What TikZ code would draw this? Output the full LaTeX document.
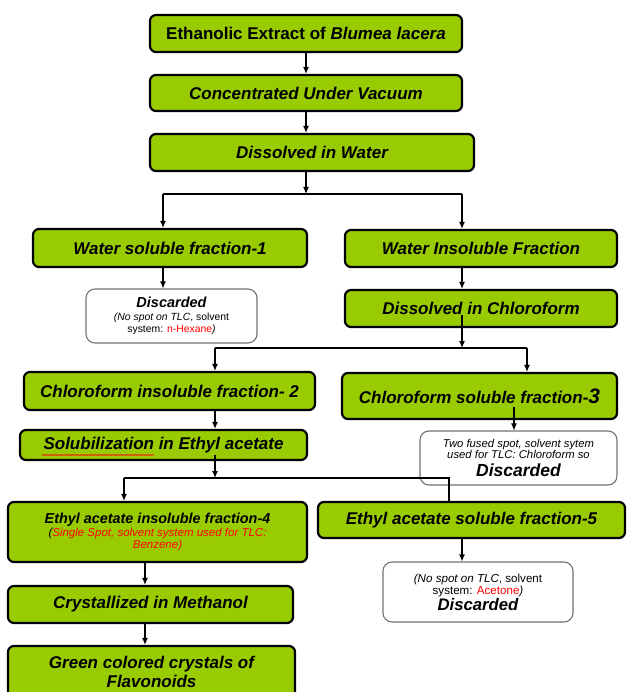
\documentclass[tikz,border=0pt]{standalone}
\usepackage{fontspec}
\setmainfont{Liberation Sans}
\usetikzlibrary{arrows.meta,decorations.pathmorphing}
\definecolor{leafgreen}{RGB}{153,204,0}

\tikzset{
    stage/.style={draw, line width=2.2pt, rounded corners=6pt, fill=leafgreen, align=center, inner sep=0pt,
        font=\fontsize{17}{19}\selectfont\bfseries\itshape},
    waste/.style={draw=black!55, line width=1.1pt, rounded corners=9pt, fill=white, align=center, inner sep=0pt},
    flow/.style={-{Latex[length=7pt,width=6pt]}, line width=1.1pt},
    rail/.style={line width=1.1pt},
}

\begin{document}
\begin{tikzpicture}[x=1pt, y=-1pt]
    \useasboundingbox (0,0) rectangle (627,692);
    \clip (0,0) rectangle (627,692);

    \node[stage, minimum width=312pt, minimum height=37pt] (extract) at (306,33.5) {{\upshape Ethanolic Extract of} \textit{Blumea lacera}};
    \node[stage, minimum width=312pt, minimum height=36pt] (vacuum) at (306,93) {Concentrated Under Vacuum};
    \node[stage, minimum width=324pt, minimum height=37pt] (water) at (312,152.5) {Dissolved in Water};

    \node[stage, minimum width=274pt, minimum height=38pt] (frac1) at (170,248) {Water soluble fraction-1};
    \node[stage, minimum width=272pt, minimum height=37pt] (insol) at (481,248.5) {Water Insoluble Fraction};
    \node[waste, minimum width=171pt, minimum height=54pt, font=\fontsize{10.4}{12}\selectfont] (disc1) at (171.5,316)
        {{\fontsize{14.5}{16}\selectfont\bfseries\itshape Discarded}\\[1pt]
         \textit{(No spot on TLC}, solvent\\system: \textcolor{red}{n-Hexane}\textit{)}};
    \node[stage, minimum width=272pt, minimum height=37pt] (chloro) at (481,308.5) {Dissolved in Chloroform};

    \node[stage, minimum width=291pt, minimum height=38pt] (frac2) at (169.5,391) {Chloroform insoluble fraction- 2};
    \node[stage, minimum width=275pt, minimum height=46pt] (frac3) at (479.5,396) {Chloroform soluble fraction-{\fontsize{21}{21}\selectfont 3}};
    \node[stage, minimum width=287pt, minimum height=30pt] (ethyl) at (163.5,445) {Solubilization in Ethyl acetate};
    \draw[red, line width=0.6pt, decorate, decoration={snake, amplitude=0.5pt, segment length=2.5pt}] (42,455) -- (154,455);
    \node[waste, minimum width=197pt, minimum height=54pt, font=\fontsize{11.3}{11.5}\selectfont\itshape] (disc2) at (518.5,458)
        {Two fused spot, solvent sytem\\used for TLC: Chloroform so\\[4pt]{\fontsize{17.5}{19}\selectfont\bfseries Discarded}};

    \node[stage, minimum width=299pt, minimum height=60pt, font=\fontsize{11.5}{12.5}\selectfont\itshape] (frac4) at (157.5,532)
        {{\fontsize{14.4}{16}\selectfont\bfseries Ethyl acetate insoluble fraction-4}\\
         (\textcolor{red}{Single Spot, solvent system used for TLC:}\\\textcolor{red}{Benzene)}};
    \node[stage, minimum width=307pt, minimum height=36pt] (frac5) at (471.5,520) {Ethyl acetate soluble fraction-5};
    \node[waste, minimum width=190pt, minimum height=60pt, font=\fontsize{11.6}{12.5}\selectfont] (disc3) at (478,592)
        {\textit{(No spot on TLC}, solvent\\system: \textcolor{red}{Acetone}\textit{)}\\
         {\fontsize{16.7}{18}\selectfont\bfseries\itshape Discarded}};

    \node[stage, minimum width=285pt, minimum height=37pt] (methanol) at (150.5,604.5) {Crystallized in Methanol};
    \node[stage, minimum width=287pt, minimum height=52pt] (crystals) at (151.5,672) {Green colored crystals of\\Flavonoids};

    \coordinate (split) at (306,194);
    \coordinate (splitL) at (163,194);
    \coordinate (splitR) at (462,194);
    \coordinate (chloroIn) at (462,315);
    \coordinate (join) at (462,348);
    \coordinate (joinL) at (215,348);
    \coordinate (joinR) at (527,348);
    \coordinate (frac3In) at (514,407);
    \coordinate (ethylIn) at (215,455);
    \coordinate (fork) at (215,478);
    \coordinate (forkL) at (124,478);
    \coordinate (forkR) at (449,478);
    \coordinate (stem) at (145,600);

    \draw[flow] (extract) -- (vacuum);
    \draw[flow] (vacuum) -- (vacuum |- water.north);
    \draw[flow] (vacuum |- water.south) -- (split);
    \draw[rail] (splitL) -- (splitR);
    \draw[flow] (splitL) -- (splitL |- frac1.north);
    \draw[flow] (splitR) -- (splitR |- insol.north);
    \draw[flow] (splitL |- frac1.south) -- (splitL |- disc1.north);
    \draw[flow] (splitR |- insol.south) -- (splitR |- chloro.north);

    \draw[flow] (chloroIn) -- (join);
    \draw[rail] (joinL) -- (joinR);
    \draw[flow] (joinL) -- (joinL |- frac2.north);
    \draw[flow] (joinR) -- (joinR |- frac3.north);
    \draw[flow] (joinL |- frac2.south) -- (joinL |- ethyl.north);
    \draw[flow] (frac3In) -- (frac3In |- disc2.north);

    \draw[flow] (ethylIn) -- (fork);
    \draw[rail] (forkL) -- (forkR) -- (forkR |- frac5.north);
    \draw[flow] (forkL) -- (forkL |- frac4.north);
    \draw[flow] (splitR |- frac5.south) -- (splitR |- disc3.north);
    \draw[flow] (stem |- frac4.south) -- (stem |- methanol.north);
    \draw[flow] (stem |- methanol.south) -- (stem |- crystals.north);
\end{tikzpicture}
\end{document}
